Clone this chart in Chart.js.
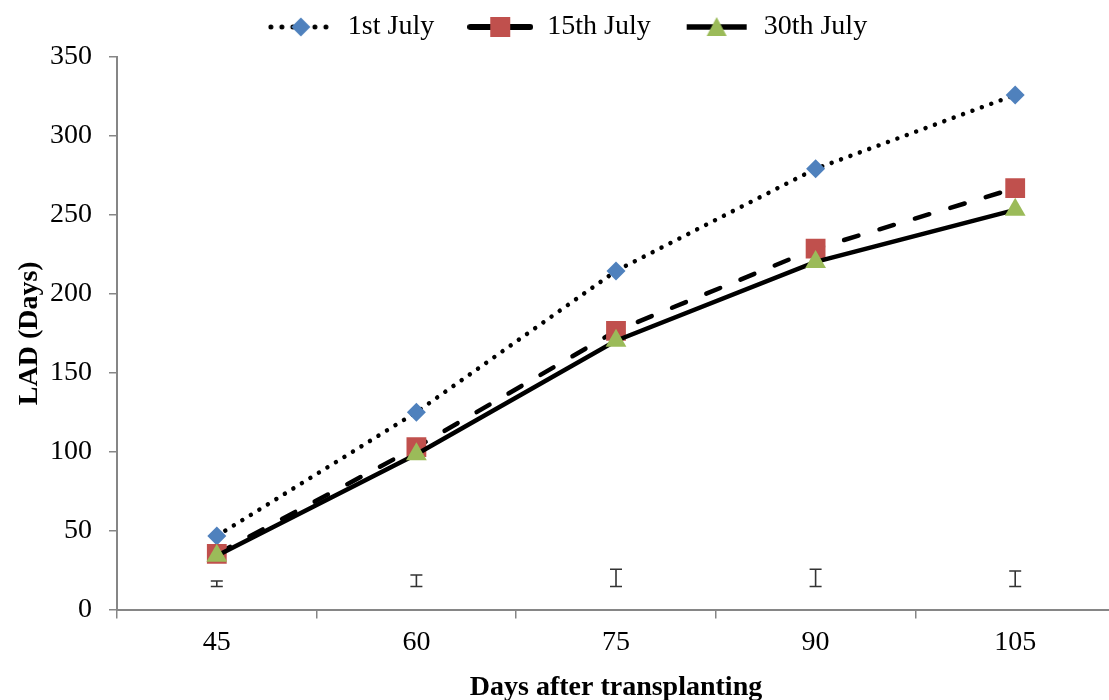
<!DOCTYPE html>
<html>
<head>
<meta charset="utf-8">
<title>LAD (Days)</title>
<script src="https://cdn.jsdelivr.net/npm/chart.js@4.4.1/dist/chart.umd.min.js"></script>
<style>
  html, body { margin: 0; padding: 0; background: #fff; overflow: hidden; }
  #ladChart { display: block; }
</style>
</head>
<body>
<canvas id="ladChart" width="1116" height="700"></canvas>
<script>
// days after transplanting
const days = ["45", "60", "75", "90", "105"];

// LAD values per transplanting date
const july1 = [46.6, 125.0, 214.5, 279.2, 326.0];
const july15 = [35.2, 102.8, 176.5, 228.6, 266.9];
const july30 = [34.1, 98.4, 170.3, 220.2, 253.2];

// LSD bars near the bottom (low / high end)
const lsdLow = [14.6, 14.6, 14.6, 14.6, 14.6];
const lsdHigh = [18.1, 21.9, 25.5, 25.5, 24.4];

const yTicks = [0, 50, 100, 150, 200, 250, 300, 350];

const serif = "'Liberation Serif', 'Times New Roman', serif";
const axisGrey = "#868686";

// little canvases for the legend: line sample with the marker on it
function legendIcon(dash, cap, width, marker, color) {
  const c = document.createElement("canvas");
  c.width = 66;
  c.height = 24;
  const g = c.getContext("2d");
  g.strokeStyle = "#000";
  g.lineWidth = width;
  g.lineCap = cap;
  g.setLineDash(dash);
  g.beginPath();
  g.moveTo(3, 12);
  g.lineTo(63, 12);
  g.stroke();
  g.setLineDash([]);
  g.fillStyle = color;
  g.beginPath();
  if (marker === "diamond") {
    g.moveTo(33, 2.5); g.lineTo(42.5, 12); g.lineTo(33, 21.5); g.lineTo(23.5, 12);
  } else if (marker === "square") {
    g.rect(23, 2, 20, 20);
  } else {
    g.moveTo(33, 2); g.lineTo(43, 21); g.lineTo(23, 21);
  }
  g.closePath();
  g.fill();
  return c;
}

const icons = [
  legendIcon([0.01, 11], "round", 5, "diamond", "#4F81BD"),
  legendIcon([], "round", 6, "square", "#C0504D"),
  legendIcon([], "butt", 5.5, "triangle", "#9BBB59")
];

const lsdBars = {
  id: "lsdBars",
  afterInit(chart) {
    // push the chart area down a bit under the legend
    const fit = chart.legend.fit;
    chart.legend.fit = function () {
      fit.call(this);
      this.height += 6;
    };
  },
  afterDatasetsDraw(chart) {
    const { ctx, scales } = chart;
    ctx.save();
    ctx.strokeStyle = "#333";
    ctx.lineWidth = 1.6;
    days.forEach((d, i) => {
      const x = scales.x.getPixelForValue(i);
      const y1 = scales.y.getPixelForValue(lsdLow[i]);
      const y2 = scales.y.getPixelForValue(lsdHigh[i]);
      ctx.beginPath();
      ctx.moveTo(x, y1); ctx.lineTo(x, y2);
      ctx.moveTo(x - 6, y1); ctx.lineTo(x + 6, y1);
      ctx.moveTo(x - 6, y2); ctx.lineTo(x + 6, y2);
      ctx.stroke();
    });
    ctx.restore();
  }
};

new Chart(document.getElementById("ladChart"), {
  type: "line",
  data: {
    labels: days,
    datasets: [
      {
        label: "1st July",
        data: july1,
        order: 2,
        borderColor: "#000",
        borderWidth: 4.5,
        borderDash: [0.01, 10],
        borderCapStyle: "round",
        pointStyle: "rectRot",
        pointRadius: 9.5,
        pointBackgroundColor: "#4F81BD",
        pointBorderWidth: 0
      },
      {
        label: "15th July",
        data: july15,
        order: 1,
        borderColor: "#000",
        borderWidth: 4.5,
        borderDash: [15, 22],
        borderCapStyle: "round",
        pointStyle: "rect",
        pointRadius: 14,
        pointBackgroundColor: "#C0504D",
        pointBorderWidth: 0
      },
      {
        label: "30th July",
        data: july30,
        order: 0,
        borderColor: "#000",
        borderWidth: 4.5,
        pointStyle: "triangle",
        pointRadius: 12,
        pointBackgroundColor: "#9BBB59",
        pointBorderWidth: 0
      }
    ]
  },
  options: {
    responsive: false,
    animation: false,
    devicePixelRatio: 1,
    layout: {
      autoPadding: false,
      padding: { top: -20, right: 1, left: 20, bottom: 0 }
    },
    plugins: {
      tooltip: { enabled: false },
      legend: {
        position: "top",
        labels: {
          usePointStyle: true,
          pointStyleWidth: 66,
          padding: 33,
          color: "#000",
          font: { family: serif, size: 28 },
          sort: (a, b) => a.datasetIndex - b.datasetIndex,
          generateLabels(chart) {
            const items = Chart.defaults.plugins.legend.labels.generateLabels(chart);
            items.forEach(it => {
              it.pointStyle = icons[it.datasetIndex];
              it.lineWidth = 0;
            });
            return items;
          }
        }
      }
    },
    scales: {
      x: {
        offset: true,
        grid: {
          offset: true,
          drawOnChartArea: false,
          color: axisGrey,
          lineWidth: 1.5,
          tickLength: 9
        },
        border: { color: axisGrey, width: 2 },
        ticks: { color: "#000", font: { family: serif, size: 28 }, padding: 7 },
        title: {
          display: true,
          text: "Days after transplanting",
          color: "#000",
          font: { family: serif, size: 28, weight: "bold" },
          padding: { top: 0, bottom: -4.8 }
        },
        afterFit(scale) {
          scale.height = 90.5;
          scale.paddingLeft = 0;
          scale.paddingRight = 0;
        }
      },
      y: {
        min: 0,
        max: 350,
        afterBuildTicks(scale) { scale.ticks = yTicks.map(v => ({ value: v })); },
        grid: {
          drawOnChartArea: false,
          color: axisGrey,
          lineWidth: 1.5,
          tickLength: 8
        },
        border: { color: axisGrey, width: 2 },
        ticks: { color: "#000", font: { family: serif, size: 28 }, padding: 17 },
        title: {
          display: true,
          text: "LAD (Days)",
          color: "#000",
          font: { family: serif, size: 28, weight: "bold" },
          padding: { top: -7, bottom: 0 }
        },
        afterFit(scale) { scale.width = 97; }
      }
    }
  },
  plugins: [lsdBars]
});
</script>
</body>
</html>
